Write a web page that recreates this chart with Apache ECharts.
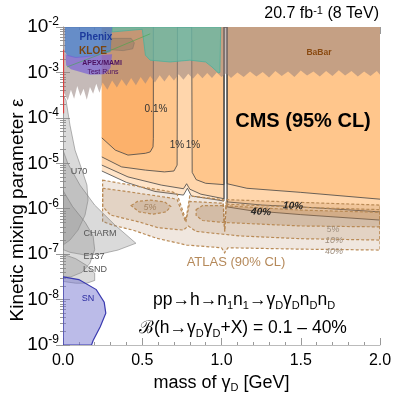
<!DOCTYPE html>
<html>
<head>
<meta charset="utf-8">
<script src="https://cdn.jsdelivr.net/npm/echarts@6/dist/echarts.min.js"></script>
<style>
html, body { margin: 0; padding: 0; background: #fff; }
#chart { width: 411px; height: 400px; }
</style>
</head>
<body>
<div id="chart"></div>
<script>
// all shapes: [mass of dark photon (GeV), log10 of kinetic mixing]
// CMS contours (lower edge, notches at omega and phi go up to the top)
const cms01 = [[0.245,-4.44],[0.33,-4.71],[0.41,-4.82],[0.52,-4.78],[0.55,-4.75],[0.568,-4.64],[0.57,-4.45],[0.57,-2]];
const cms1 = [[0.245,-4.86],[0.37,-5.08],[0.52,-5.15],[0.64,-5.19],[0.70,-5.17],[0.72,-5.04],[0.722,-2],[0.812,-2],[0.815,-5.2],[0.84,-5.36],[0.9,-5.44],[1.016,-5.47],[1.016,-2],[1.035,-2],[1.035,-5.45],[1.16,-5.55],[1.5,-5.64],[2.0,-5.79]];
const cms10 = [[0.245,-5.04],[0.41,-5.30],[0.62,-5.48],[0.76,-5.56],[0.78,-5.45],[0.80,-5.57],[0.87,-5.68],[1.016,-5.78],[1.016,-2],[1.035,-2],[1.035,-5.85],[1.26,-5.92],[1.5,-5.96],[2.0,-6.07]];
const cms40 = [[0.245,-5.17],[0.40,-5.42],[0.58,-5.62],[0.76,-5.70],[0.785,-5.55],[0.81,-5.72],[1.016,-5.83],[1.016,-2],[1.035,-2],[1.035,-5.96],[1.18,-6.04],[1.5,-6.13],[2.0,-6.25]];

// ATLAS 90% CL regions
const atlas40 = [[0.25,-5.37],[0.49,-5.52],[0.69,-5.63],[0.72,-5.68],[0.775,-6.25],[0.80,-5.72],[1.01,-5.80],[1.02,-6.5],[1.03,-5.80],[1.5,-5.86],[2.0,-5.92],[2.0,-6.91],[1.5,-6.89],[1.04,-6.86],[1.02,-6.97],[1.0,-6.86],[0.78,-6.80],[0.59,-6.65],[0.44,-6.47],[0.32,-6.37],[0.25,-6.28]];
const atlas10 = [[0.25,-5.55],[0.42,-5.63],[0.69,-5.77],[0.72,-5.80],[0.775,-6.3],[0.80,-5.84],[1.01,-5.88],[1.02,-6.5],[1.03,-5.90],[1.5,-5.97],[2.0,-6.02],[2.0,-6.69],[1.5,-6.66],[1.12,-6.60],[0.84,-6.50],[0.79,-6.38],[0.76,-6.47],[0.6,-6.42],[0.49,-6.30],[0.30,-6.14],[0.25,-5.95]];
const atlas5a = [[0.43,-5.93],[0.47,-5.84],[0.55,-5.81],[0.64,-5.85],[0.68,-5.95],[0.65,-6.07],[0.57,-6.12],[0.48,-6.07]];
const atlas5b = [[0.84,-6.02],[0.88,-5.93],[1.0,-5.93],[1.5,-6.03],[2.0,-6.08],[2.0,-6.40],[1.5,-6.38],[1.0,-6.30],[0.88,-6.26],[0.84,-6.15]];

// beam dump and astrophysics limits
const u70 = [[0,-3.5],[0.019,-3.61],[0.044,-4.16],[0.076,-4.71],[0.12,-5.15],[0.151,-5.48],[0.158,-5.81],[0.139,-6.14],[0.095,-6.47],[0.044,-6.69],[0,-6.8]];
const charm = [[0,-4.71],[0.03,-5.0],[0.107,-5.48],[0.2,-5.92],[0.328,-6.36],[0.46,-6.76],[0.347,-6.91],[0.233,-7.0],[0.139,-7.02],[0.044,-6.96],[0,-6.9]];
const e137 = [[0,-5.6],[0.06,-5.95],[0.14,-6.3],[0.19,-6.6],[0.2,-6.9],[0.17,-7.2],[0.12,-7.4],[0.05,-7.5],[0,-7.5]];
const lsnd = [[0,-7.0],[0.08,-7.1],[0.15,-7.25],[0.2,-7.42],[0.2,-7.58],[0.15,-7.64],[0.08,-7.64],[0,-7.6]];
const sn = [[0,-7.5],[0.1,-7.56],[0.21,-7.78],[0.26,-8.06],[0.27,-8.3],[0.235,-8.6],[0.19,-8.9],[0.18,-9],[0,-9]];

// low-mass / high-coupling experiments
const babarEdge = [[0.00,-3.40],[0.03,-3.62],[0.05,-3.38],[0.07,-3.58],[0.09,-3.30],[0.11,-3.52],[0.13,-3.36],[0.15,-3.60],[0.17,-3.32],[0.19,-3.47],[0.21,-3.25],[0.23,-3.45],[0.25,-3.22],[0.28,-3.38],[0.31,-3.18],[0.34,-3.33],[0.37,-3.15],[0.40,-3.30],[0.43,-3.12],[0.46,-3.28],[0.49,-3.10],[0.52,-3.25],[0.55,-3.08],[0.58,-3.22],[0.61,-3.06],[0.64,-3.20],[0.67,-3.05],[0.70,-3.18],[0.73,-3.04],[0.76,-3.16],[0.79,-3.03],[0.82,-3.14],[0.85,-3.02],[0.88,-3.13],[0.91,-3.01],[0.94,-3.12],[0.97,-3.00],[1.00,-3.10],[1.03,-3.02],[1.06,-3.12],[1.10,-3.00],[1.14,-3.10],[1.18,-2.98],[1.22,-3.09],[1.26,-2.99],[1.30,-3.11],[1.34,-2.97],[1.38,-3.08],[1.42,-2.98],[1.46,-3.10],[1.50,-2.96],[1.54,-3.07],[1.58,-2.98],[1.62,-3.09],[1.66,-2.97],[1.70,-3.08],[1.74,-2.95],[1.78,-3.07],[1.82,-2.97],[1.86,-3.09],[1.90,-2.98],[1.94,-3.08],[1.98,-2.97],[2.00,-3.05]];
const phenix = [[0.012,-2],[0.012,-2.55],[0.03,-2.64],[0.08,-2.68],[0.15,-2.66],[0.22,-2.62],[0.3,-2.55],[0.31,-2.0]];
const apex = [[0.015,-2.6],[0.02,-2.85],[0.05,-2.93],[0.1,-2.98],[0.17,-3.05],[0.26,-3.04],[0.3,-2.9],[0.31,-2.6],[0.2,-2.62],[0.08,-2.66]];
const kloe = [[0.3,-2.25],[0.43,-2.25],[0.45,-2.35],[0.44,-2.48],[0.38,-2.52],[0.3,-2.5]];
const teal = [[0.31,-2],[0.31,-2.11],[0.5,-2.05],[0.52,-2.62],[0.55,-2.73],[0.675,-2.77],[0.8,-2.73],[0.9,-2.77],[0.94,-2.88],[0.98,-3.01],[0.99,-3.0],[0.995,-2]];
const greenLine = [[0.025,-2.88],[0.31,-2.5],[0.55,-2.15]];
const redLine = [[0.004,-2.5],[0.004,-3.9]];

const xTicks = [0, 0.5, 1.0, 1.5, 2.0];

const FONT = '"Liberation Sans", Arial, Helvetica, sans-serif';

function toPx(api, pts) {
  return pts.map(p => api.coord([p[0], Math.pow(10, p[1])]));
}
function area(pts, fill, stroke, width, dash) {
  return {
    type: 'custom', coordinateSystem: 'cartesian2d', silent: true, clip: true,
    data: [[1, 1e-5]],
    renderItem: (params, api) => ({
      type: 'polygon',
      shape: { points: toPx(api, pts) },
      style: { fill: fill, stroke: stroke || null, lineWidth: width || 0, lineDash: dash || null }
    })
  };
}
function line(pts, color, width, dash) {
  return {
    type: 'custom', coordinateSystem: 'cartesian2d', silent: true, clip: true,
    data: [[1, 1e-5]],
    renderItem: (params, api) => ({
      type: 'polyline',
      shape: { points: toPx(api, pts) },
      style: { fill: null, stroke: color, lineWidth: width, lineDash: dash || null }
    })
  };
}
function closeTop(path) {
  return [[0.245, -2]].concat(path, [[2.0, -2]]);
}

const grey = 'rgba(140,140,140,0.32)';
const greyEdge = 'rgba(120,120,120,0.55)';
const atlasFill = 'rgba(165,115,65,0.17)';
const atlasEdge = '#b98a55';

const series = [
  // CMS 95% CL, widest first
  area(closeTop(cms40), '#ffe4c8'),
  area(closeTop(cms10), '#ffd6ac'),
  area(closeTop(cms1), '#ffc68c'),
  area([[0.245, -2]].concat(cms01), '#fcb16b'),
  line(cms40, '#444', 0.8),
  line(cms10, '#444', 0.8),
  line(cms1, '#444', 0.8),
  line(cms01, '#444', 0.8),
  // ATLAS 90% CL
  area(atlas40, atlasFill, atlasEdge, 1.2, [3, 2]),
  area(atlas10, atlasFill, atlasEdge, 1.2, [3, 2]),
  area(atlas5a, 'rgba(150,100,50,0.2)', atlasEdge, 1.2, [3, 2]),
  area(atlas5b, 'rgba(150,100,50,0.2)', atlasEdge, 1.2, [3, 2]),
  // beam dumps
  area(u70, grey, greyEdge, 1),
  area(charm, grey, greyEdge, 1),
  area(e137, grey, greyEdge, 1),
  area(lsnd, grey, greyEdge, 1),
  area(sn, 'rgba(120,120,210,0.5)', '#3a3ab0', 1.2),
  // BaBar and the rest at high coupling
  area([[0, -2]].concat(babarEdge, [[2.0, -2]]), 'rgba(150,130,125,0.55)'),
  area(teal, 'rgba(95,190,170,0.68)', 'rgba(70,175,155,0.9)', 0.8),
  area(kloe, 'rgba(140,120,100,0.45)', 'rgba(120,110,100,0.6)', 0.8),
  area(phenix, 'rgba(70,125,205,0.75)'),
  area(apex, 'rgba(120,95,215,0.68)'),
  line(greenLine, 'rgba(60,170,70,0.7)', 0.8),
  line(redLine, '#e03030', 1)
];

const txt = (x, y, text, style, rot) => ({
  type: 'text', x: x, y: y, z: 100, silent: true, rotation: rot || 0,
  style: Object.assign({ text: text, fill: '#000', font: '10px ' + FONT, textAlign: 'center', textVerticalAlign: 'middle' }, style)
});

const main17 = { fontSize: 17.5, fontFamily: FONT, lineHeight: 22 };
const sub11 = { fontSize: 11, fontFamily: FONT, verticalAlign: 'bottom', lineHeight: 11 };

const graphics = [
  txt(379, 14, '{m|20.7 fb}{s|-1}{m| (8 TeV)}', { textAlign: 'right',
    rich: { m: { fontSize: 16, fontFamily: FONT, lineHeight: 18 }, s: { fontSize: 11, fontFamily: FONT, verticalAlign: 'top', lineHeight: 11 } } }),
  txt(18, 210, 'Kinetic mixing parameter ε', { font: '19px ' + FONT }, Math.PI / 2),
  txt(303, 121, 'CMS (95% CL)', { font: 'bold 20px ' + FONT }),
  txt(319, 53, 'BaBar', { font: 'bold 8.5px ' + FONT, fill: '#8a4a10' }),
  txt(96, 37, 'Phenix', { font: 'bold 10px ' + FONT, fill: '#1c3a9c' }),
  txt(93, 51, 'KLOE', { font: 'bold 10px ' + FONT, fill: '#7a4510' }),
  txt(102, 63, 'APEX/MAMI', { font: 'bold 7px ' + FONT, fill: '#4a1060' }),
  txt(103, 72, 'Test Runs', { font: '7px ' + FONT, fill: '#4a1060' }),
  txt(156, 109, '0.1%', { font: '10px ' + FONT, fill: '#333' }),
  txt(177, 145, '1%', { font: '10px ' + FONT, fill: '#333' }),
  txt(193, 145, '1%', { font: '10px ' + FONT, fill: '#333' }),
  txt(293, 206, '10%', { font: 'italic bold 10px ' + FONT, fill: '#222' }, -0.06),
  txt(261, 212, '40%', { font: 'italic bold 10px ' + FONT, fill: '#222' }, -0.06),
  txt(150, 207, '5%', { font: 'italic 9px ' + FONT, fill: '#a58462' }),
  txt(333, 229, '5%', { font: 'italic 9px ' + FONT, fill: '#a09080' }),
  txt(334, 240, '10%', { font: 'italic 9px ' + FONT, fill: '#a09080' }),
  txt(334, 251, '40%', { font: 'italic 9px ' + FONT, fill: '#a09080' }),
  txt(236, 262, 'ATLAS (90% CL)', { font: '13px ' + FONT, fill: '#b5895a' }),
  txt(79, 172, 'U70', { font: '9px ' + FONT, fill: '#555' }),
  txt(100, 234, 'CHARM', { font: '9px ' + FONT, fill: '#555' }),
  txt(94, 257, 'E137', { font: '9px ' + FONT, fill: '#555' }),
  txt(95, 270, 'LSND', { font: '9px ' + FONT, fill: '#555' }),
  txt(88, 299, 'SN', { font: '9px ' + FONT, fill: '#2a2aa0' }),
  txt(153, 300, '{m|pp→h→n}{s|1}{m|n}{s|1}{m|→γ}{s|D}{m|γ}{s|D}{m|n}{s|D}{m|n}{s|D}', { textAlign: 'left', rich: { m: main17, s: sub11 } }),
  txt(139, 328, '{m|ℬ(h→γ}{s|D}{m|γ}{s|D}{m|+X) = 0.1 – 40%}', { textAlign: 'left', rich: { m: main17, s: sub11 } })
];

const chart = echarts.init(document.getElementById('chart'), null, { renderer: 'canvas' });
const tickStyle = { color: '#999', width: 1 };
const frame = { lineStyle: { color: '#bbb' } };
chart.setOption({
  animation: false,
  backgroundColor: '#fff',
  grid: { left: 63, right: 31, top: 27, bottom: 55, outerBoundsMode: 'none' },
  xAxis: [{
    type: 'value', min: xTicks[0], max: xTicks[xTicks.length - 1], interval: 0.5, position: 'bottom',
    axisLine: frame,
    axisTick: { inside: true, length: 7, lineStyle: tickStyle },
    minorTick: { show: true, splitNumber: 5, length: 3, lineStyle: tickStyle },
    splitLine: { show: false },
    axisLabel: { formatter: v => v.toFixed(1), fontSize: 16, fontFamily: FONT, color: '#000', margin: 8 },
    name: '{m|mass of γ}{s|D}{m| [GeV]}', nameLocation: 'middle', nameGap: 26,
    nameTextStyle: { rich: { m: { fontSize: 18, fontFamily: FONT, color: '#000', lineHeight: 22 }, s: { fontSize: 11, fontFamily: FONT, color: '#000', verticalAlign: 'bottom', lineHeight: 11 } } }
  }, {
    type: 'value', min: xTicks[0], max: xTicks[xTicks.length - 1], interval: 0.5, position: 'top',
    axisLine: frame,
    axisTick: { inside: true, length: 7, lineStyle: tickStyle },
    minorTick: { show: true, splitNumber: 5, length: 3, lineStyle: tickStyle },
    splitLine: { show: false }, axisLabel: { show: false }
  }],
  yAxis: [{
    type: 'log', logBase: 10, min: 1e-9, max: 1e-2, splitNumber: 7, position: 'left',
    axisLine: frame,
    axisTick: { inside: true, length: 7, lineStyle: tickStyle },
    minorTick: { show: true, splitNumber: 9, length: 3, lineStyle: tickStyle },
    splitLine: { show: false },
    axisLabel: {
      margin: 4,
      formatter: v => '{b|10}{s|' + Math.round(Math.log10(v)) + '}',
      rich: { b: { fontSize: 19, fontFamily: FONT, color: '#000', lineHeight: 22 }, s: { fontSize: 12, fontFamily: FONT, color: '#000', verticalAlign: 'top', lineHeight: 12 } }
    }
  }, {
    type: 'log', logBase: 10, min: 1e-9, max: 1e-2, splitNumber: 7, position: 'right',
    axisLine: frame,
    axisTick: { inside: true, length: 7, lineStyle: tickStyle },
    minorTick: { show: true, splitNumber: 9, length: 3, lineStyle: tickStyle },
    splitLine: { show: false }, axisLabel: { show: false }
  }],
  series: series,
  graphic: graphics
});
</script>
</body>
</html>
